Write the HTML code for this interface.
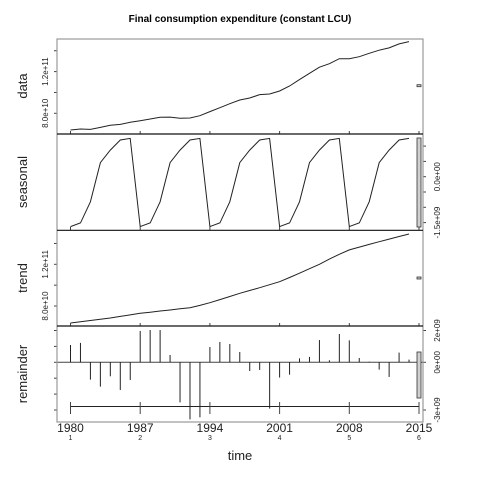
<!DOCTYPE html>
<html><head><meta charset="utf-8"><style>
html,body{margin:0;padding:0;background:#fff}
svg{display:block;font-family:"Liberation Sans",Arial,sans-serif}
</style></head><body>
<svg id="c" width="480" height="480" viewBox="0 0 480 480">
<rect width="480" height="480" fill="#fff"/>
<text x="240" y="22" text-anchor="middle" font-size="10" font-weight="bold">Final consumption expenditure (constant LCU)</text>
<g id="g"></g>
</svg>
<script>
const years = [1980,1981,1982,1983,1984,1985,1986,1987,1988,1989,1990,1991,1992,1993,1994,1995,1996,1997,1998,1999,2000,2001,2002,2003,2004,2005,2006,2007,2008,2009,2010,2011,2012,2013,2014];
const dataVals = [64.0,64.9,64.6,66.5,68.5,69.4,71.4,72.9,74.5,76.2,76.4,75.2,75.5,77.7,81.6,85.4,89.2,92.8,94.7,97.9,98.5,101.4,106.2,112.3,118.4,124.2,127.6,132.4,132.4,134.3,137.6,140.5,142.7,146.6,148.8];
const seasonalCycle = [-1.63,-1.51,-0.82,0.46,0.87,1.20,1.25];
const trendVals = [63.7,64.9,66.1,67.3,68.5,70.0,71.5,73.0,74.1,75.2,76.2,77.3,78.4,80.6,83.2,86.1,89.1,92.2,94.9,97.6,100.4,103.3,107.3,111.5,115.8,120.0,125.0,129.6,133.8,136.5,139.1,141.7,144.2,146.7,149.1];
const remainderVals = [1.09,1.22,-1.09,-1.53,-0.88,-1.74,-1.11,1.97,2.03,2.03,0.46,-2.52,-3.59,-3.46,0.96,1.28,1.15,0.65,-0.55,-0.48,-2.91,-0.96,-0.78,0.25,0.34,1.40,0.13,1.78,1.38,0.27,0.04,-0.46,-0.92,0.61,0.17];
const xTickYears = [1980,1987,1994,2001,2008,2015];
const xTickCycles = ["1","2","3","4","5","6"];
const seasonalVals = years.map((y,i)=>seasonalCycle[i%7]);

const NS="http://www.w3.org/2000/svg";
const g=document.getElementById('g');
function el(t,a,p){const e=document.createElementNS(NS,t);for(const k in a)e.setAttribute(k,a[k]);(p||g).appendChild(e);return e;}
const X0=57,X1=423;
const xs=yr=>70.5+(yr-1980)*(348.5/35);
// scales
const yData=v=>113.3-(v-80)*(41.7/40);
const yTrend=v=>306-(v-80)*(41.7/40);
const ySeas=v=>176.7-v*30.6;
const yRem=v=>362.3-v*15.9;

function line(vals,ys,name){
  const pts=vals.map((v,i)=>xs(years[i]).toFixed(1)+','+ys(v).toFixed(1)).join(' ');
  const p=el('polyline',{points:pts,fill:'none',stroke:'#222','stroke-width':1});
  
  
}
function vtext(x,y,txt,fs,name){
  const t=el('text',{x:x,y:y,'font-size':fs,'text-anchor':'middle',transform:`rotate(-90 ${x} ${y})`,fill:'#222'});
  t.textContent=txt;
  
  
}
function tick(x1,y1,x2,y2,name){
  const t=el('line',{x1:x1,y1:y1,x2:x2,y2:y2,stroke:'#444','stroke-width':1});
  
  
}
function box(y1,y2,name){
  const b=el('rect',{x:417,y:Math.min(y1,y2),width:4,height:Math.max(2,Math.abs(y2-y1)),fill:'#d0d0d0',stroke:'#333','stroke-width':0.8});
  
  
}

// series
line(dataVals,yData,'data-line');
line(seasonalVals,ySeas,'seasonal-line');
line(trendVals,yTrend,'trend-line');
// remainder bars
const zl=el('line',{x1:X0,y1:yRem(0),x2:X1,y2:yRem(0),stroke:'#444','stroke-width':1});


remainderVals.forEach((v,i)=>{
  const b=el('line',{x1:xs(years[i]),y1:yRem(0),x2:xs(years[i]),y2:yRem(v),stroke:'#222','stroke-width':1});
  
  
});
// time axis line inside remainder panel
const ta=el('line',{x1:xs(1980),y1:406.5,x2:xs(2015),y2:406.5,stroke:'#222','stroke-width':1});



// x ticks and labels
xTickYears.forEach((yr,i)=>{
  const x=xs(yr);
  tick(x,402,x,414,'x-tick');
  tick(x,131,x,134,'x-tick-top');
  tick(x,227,x,230,'x-tick-mid');
  tick(x,323,x,326,'x-tick-mid2');
  const t=el('text',{x:x,y:432,'font-size':12,'text-anchor':'middle',fill:'#222'});
  t.textContent=String(yr);
  
  
  const c=el('text',{x:x,y:440,'font-size':7,'text-anchor':'middle',fill:'#222'});
  c.textContent=xTickCycles[i];
  
  
});

// left axes
[80,100,120,140].forEach(v=>tick(54,yData(v),57,yData(v),'data-y-tick'));
vtext(48,yData(80),'8.0e+10',8,'data-y-label');
vtext(48,yData(120),'1.2e+11',8,'data-y-label');
[80,100,120,140].forEach(v=>tick(54,yTrend(v),57,yTrend(v),'trend-y-tick'));
vtext(48,yTrend(80),'8.0e+10',8,'trend-y-label');
vtext(48,yTrend(120),'1.2e+11',8,'trend-y-label');
[-3,-2,-1,0,1,2].forEach(v=>tick(54,yRem(v),57,yRem(v),'remainder-left-tick'));
// right axes
[-1.5,-1,-0.5,0,0.5,1].forEach(v=>tick(423,ySeas(v),426,ySeas(v),'seasonal-y-tick'));
vtext(440,ySeas(0),'0.0e+00',8,'seasonal-y-label');
vtext(440,ySeas(-1.5),'-1.5e+09',8,'seasonal-y-label');
[-3,0,2].forEach(v=>tick(423,yRem(v),426,yRem(v),'remainder-y-tick'));
vtext(440,yRem(2),'2e+09',8,'remainder-y-label');
vtext(440,yRem(0),'0e+00',8,'remainder-y-label');
vtext(440,yRem(-3),'-3e+09',8,'remainder-y-label');

// range boxes
box(84.7,86.7,'data-range-box');
box(138,227,'seasonal-range-box');
box(277,279,'trend-range-box');
box(352,398,'remainder-range-box');

// panel labels
vtext(27,86,'data',13,'data-panel-label');
vtext(27,182,'seasonal',13,'seasonal-panel-label');
vtext(27,278,'trend',13,'trend-panel-label');
vtext(27,374,'remainder',13,'remainder-panel-label');

// frames
const fr=el('rect',{x:X0,y:39,width:X1-X0,height:383,fill:'none',stroke:'#999','stroke-width':1.2});


[134,230.3,326].forEach(y=>{
  const s=el('line',{x1:X0,y1:y,x2:X1,y2:y,stroke:'#111','stroke-width':1.2});
  
  
});
const tl=el('text',{x:240,y:460,'font-size':13,'text-anchor':'middle',fill:'#222'});
tl.textContent='time';


</script>
</body></html>
